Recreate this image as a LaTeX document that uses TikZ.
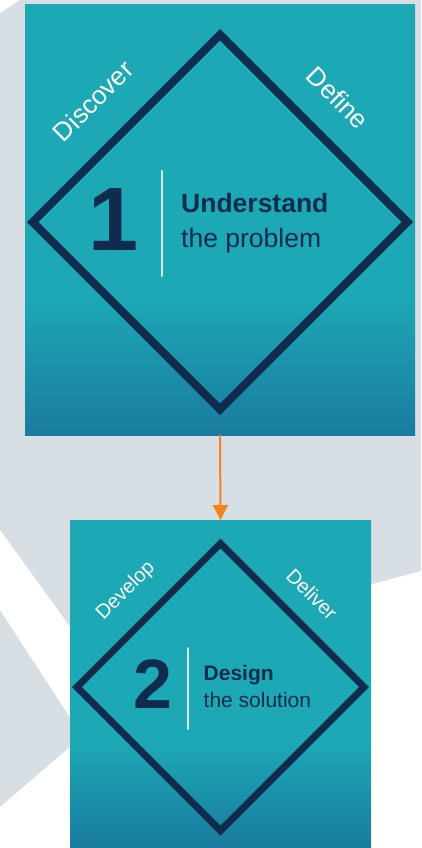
\documentclass[tikz,border=0pt]{standalone}
\usepackage{fontspec}
\setmainfont{Liberation Sans}
\usetikzlibrary{arrows.meta,shapes.geometric,calc}

\definecolor{backdrop}{HTML}{D7DEE4}
\definecolor{panel}{HTML}{1CA8B4}
\definecolor{paneldk}{HTML}{1A7BA0}
\definecolor{rim}{HTML}{0F2C4F}
\definecolor{divcol}{HTML}{DCE4E4}
\definecolor{flowcol}{HTML}{F5821F}
% the path is mapped onto the 25bp--75bp band of the shading
\pgfdeclareverticalshading{panelfade}{100bp}{color(0bp)=(paneldk); color(25bp)=(paneldk); color(41bp)=(panel); color(100bp)=(panel)}

\begin{document}
\begin{tikzpicture}[
  x=1pt, y=-1pt,
  panel/.style={shade, shading=panelfade, inner sep=0pt, outer sep=0pt},
  rim/.style={draw=rim, diamond, aspect=1, inner sep=0pt, line width=8pt},
  num/.style={font=\fontsize{90}{90}\selectfont\bfseries, text=rim, inner sep=0pt, anchor=base},
  head/.style={font=\fontsize{26.5}{30}\selectfont\bfseries, text=rim, inner sep=0pt, anchor=base west},
  sub/.style={font=\fontsize{26.5}{30}\selectfont, text=rim, inner sep=0pt, anchor=base west},
  lbl/.style={font=\fontsize{26}{26}\selectfont, text=white, inner sep=0pt},
  divider/.style={draw=divcol, line width=2.5pt, line cap=round},
  ar/.style={-{Triangle[width=15pt, length=15pt]}, draw=flowcol, fill=flowcol, line width=2pt}
]
\useasboundingbox (0,0) rectangle (421,848);

% --- backdrop with white cut-outs ---------------------------------------
\fill[backdrop] (0,0) rectangle (421,848);
\fill[white] (0,0) -- (20,0) -- (0,13) -- cycle;
\fill[white] (0,530) -- (120,696) -- (120,794) -- (0,610) -- cycle;
\fill[white] (0,807) -- (120,704) -- (120,848) -- (0,848) -- cycle;
\fill[white] (365,586) -- (421,571) -- (421,848) -- (365,848) -- cycle;

% --- the two panels ------------------------------------------------------
\node[panel, minimum width=390pt, minimum height=430pt] (p1) at (220,220) {};
\node[panel, minimum width=301pt, minimum height=328pt] (p2) at (220.5,684) {};

% --- diamonds ------------------------------------------------------------
\node[rim, minimum size=378pt] (d1) at (220,222) {};
\node[rim, minimum size=290pt, line width=7pt] (d2) at (220.5,687) {};

% --- step 1 --------------------------------------------------------------
\node[lbl, rotate=45] (t1a) at (93,101) {Discover};
\node[lbl, rotate=-45] (t1b) at (338,98) {Define};
\node[num] (n1) at (114,250) {1};
\draw[divider] (162,171) -- (162,276);
\node[head] (h1) at (181,212) {Understand};
\node[sub] (s1) at (181,247) {the problem};

% --- step 2 --------------------------------------------------------------
\node[lbl, font=\fontsize{20}{20}\selectfont, rotate=45] (t2a) at (126,591) {Develop};
\node[lbl, font=\fontsize{20}{20}\selectfont, rotate=-45] (t2b) at (312,594) {Deliver};
\node[num, font=\fontsize{70}{70}\selectfont\bfseries] (n2) at (153,708) {2};
\draw[divider, line width=2pt] (188,648) -- (188,729);
\node[head, font=\fontsize{21}{24}\selectfont\bfseries] (h2) at (203.5,680) {Design};
\node[sub, font=\fontsize{21}{24}\selectfont] (s2) at (203.5,707) {the solution};

% --- flow between the steps ----------------------------------------------
\draw[ar] (p1.south) -- (p2.north);

\end{tikzpicture}
\end{document}
